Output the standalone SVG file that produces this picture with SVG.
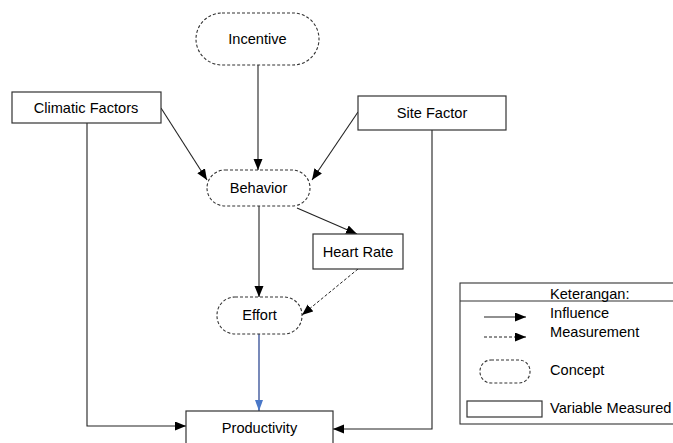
<svg xmlns="http://www.w3.org/2000/svg" width="673" height="443" viewBox="0 0 673 443">
<style>
text{font-family:"Liberation Sans",Arial,sans-serif;font-size:14.6px;fill:#000}
.box{fill:#fff;stroke:#333;stroke-width:1.2}
.concept{fill:#fff;stroke:#333;stroke-width:1.1;stroke-dasharray:3 2}
.ln{fill:none;stroke:#222;stroke-width:1.1}
.dash{fill:none;stroke:#222;stroke-width:1;stroke-dasharray:3 2}
.mid{text-anchor:middle}
</style>
<defs>
<marker id="ah" markerUnits="userSpaceOnUse" markerWidth="12" markerHeight="10" refX="11" refY="4.5" orient="auto">
<path d="M0,0 L11,4.5 L0,9 z" fill="#000"/>
</marker>
<marker id="ahb" markerUnits="userSpaceOnUse" markerWidth="12" markerHeight="10" refX="11" refY="4" orient="auto">
<path d="M0,0 L11,4 L0,8 z" fill="#4a78c8"/>
</marker>
</defs>
<g id="connectors">
<line class="ln" x1="258" y1="65" x2="258" y2="170" marker-end="url(#ah)"/>
<line class="ln" x1="161" y1="108" x2="207" y2="180" marker-end="url(#ah)"/>
<line class="ln" x1="358" y1="112" x2="312" y2="180" marker-end="url(#ah)"/>
<line class="ln" x1="259" y1="206" x2="259" y2="297" marker-end="url(#ah)"/>
<line class="ln" x1="297" y1="208" x2="357" y2="234" marker-end="url(#ah)"/>
<line class="dash" x1="358" y1="269" x2="302" y2="315" marker-end="url(#ah)"/>
<line x1="259" y1="334" x2="259" y2="411" stroke="#1f3b8a" stroke-width="1.2" marker-end="url(#ahb)"/>
<polyline class="ln" points="87,123 87,426 186,426" marker-end="url(#ah)"/>
<polyline class="ln" points="432,130 432,429 333,429" marker-end="url(#ah)"/>
</g>
<g id="incentive">
<rect class="concept" x="196" y="13" width="123" height="52" rx="26" ry="26"/>
<text class="mid" x="257.5" y="44">Incentive</text>
</g>
<g id="climatic">
<rect class="box" x="12" y="92" width="149" height="31"/>
<text class="mid" x="86" y="113">Climatic Factors</text>
</g>
<g id="site">
<rect class="box" x="358" y="96" width="148" height="34"/>
<text class="mid" x="432" y="118">Site Factor</text>
</g>
<g id="behavior">
<rect class="concept" x="207" y="170" width="103" height="36" rx="18" ry="18"/>
<text class="mid" x="258.5" y="193">Behavior</text>
</g>
<g id="heartrate">
<rect class="box" x="313" y="234" width="90" height="35"/>
<text class="mid" x="358" y="257">Heart Rate</text>
</g>
<g id="effort">
<rect class="concept" x="217" y="297" width="85" height="37" rx="18" ry="18"/>
<text class="mid" x="259.5" y="320">Effort</text>
</g>
<g id="productivity">
<rect class="box" x="186" y="411" width="147" height="40"/>
<text class="mid" x="259.5" y="433">Productivity</text>
</g>
<g id="legend">
<rect x="460" y="283" width="230" height="141" fill="#fff" stroke="#333" stroke-width="1.1"/>
<line x1="460" y1="301" x2="673" y2="301" stroke="#333" stroke-width="1.1"/>
<text x="550" y="299">Keterangan:</text>
<line class="ln" x1="484" y1="317" x2="526" y2="317" marker-end="url(#ah)"/>
<line class="dash" x1="484" y1="337" x2="526" y2="337" marker-end="url(#ah)"/>
<text x="550" y="318">Influence</text>
<text x="550" y="337">Measurement</text>
<rect class="concept" x="480" y="360" width="50" height="23" rx="11" ry="11"/>
<text x="550" y="375">Concept</text>
<rect class="box" x="467" y="401" width="75" height="16"/>
<text x="550" y="413">Variable Measured</text>
</g>
</svg>
